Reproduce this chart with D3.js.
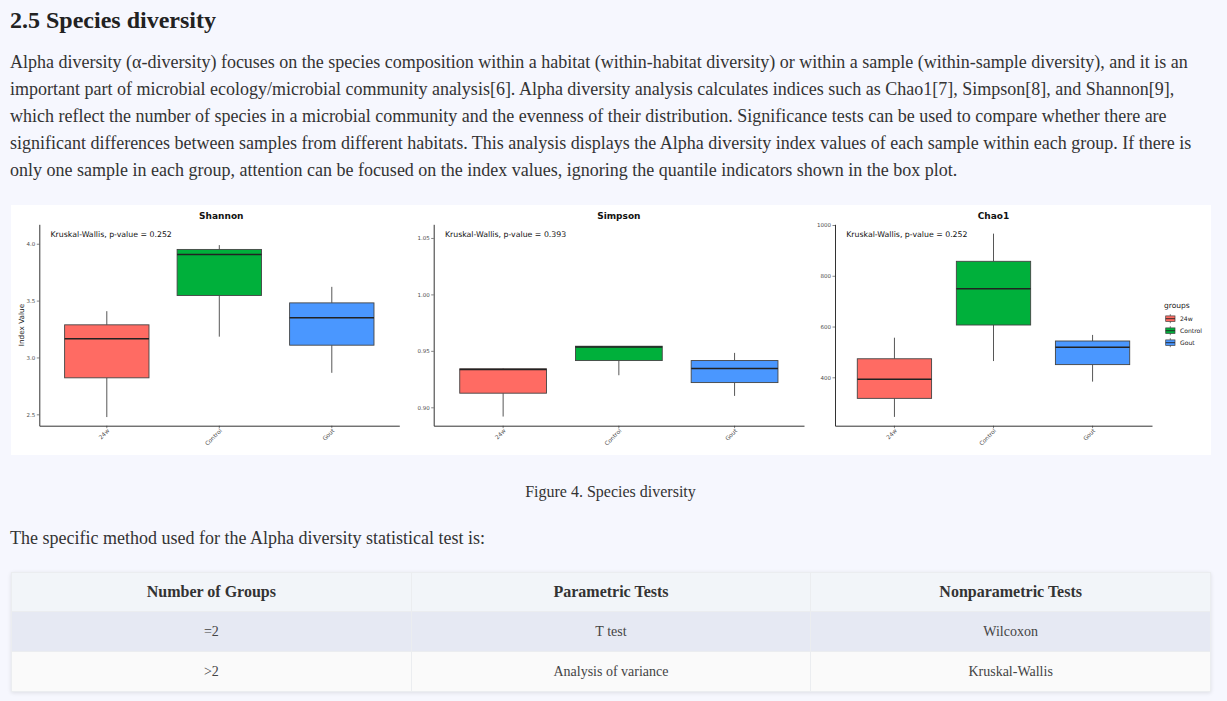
<!DOCTYPE html>
<html>
<head>
<meta charset="utf-8">
<script src="https://cdn.jsdelivr.net/npm/d3@7"></script>
<style>
  html, body { margin: 0; padding: 0; background: #f6f7fe; width: 1227px; height: 701px; overflow: hidden; }
  body { position: relative; font-family: "Liberation Serif", "Times New Roman", serif; color: #333; }
  .abs { position: absolute; white-space: nowrap; }
  h2 { position: absolute; left: 10px; top: 5px; margin: 0; font-size: 24px; line-height: 30px; font-weight: bold; color: #222; }
  .para { left: 10px; top: 48.5px; font-size: 18px; line-height: 27px; color: #333; }
  .caption { left: 0; width: 1221px; text-align: center; top: 478px; font-size: 16px; line-height: 27px; color: #333; }
  .method { left: 10px; top: 524.5px; font-size: 18px; line-height: 27px; color: #333; }
  #fig { position: absolute; left: 11px; top: 205px; width: 1200px; height: 250px; background: #fff; }
  table { position: absolute; left: 11px; top: 572px; width: 1200px; border-collapse: collapse; box-shadow: 0 1px 4px rgba(0,0,0,0.10); table-layout: fixed; }
  th, td { text-align: center; border: 1px solid #ebedf0; padding: 0; }
  th { height: 38px; font-size: 16px; font-weight: bold; color: #333; background: #f2f5f9; }
  td { height: 39px; font-size: 14px; color: #444; }
  tr.r1 td { background: #e6e9f3; }
  tr.r2 td { background: #fafafa; }
</style>
</head>
<body>
<h2>2.5 Species diversity</h2>
<div class="abs para">Alpha diversity (α-diversity) focuses on the species composition within a habitat (within-habitat diversity) or within a sample (within-sample diversity), and it is an<br>important part of microbial ecology/microbial community analysis[6]. Alpha diversity analysis calculates indices such as Chao1[7], Simpson[8], and Shannon[9],<br>which reflect the number of species in a microbial community and the evenness of their distribution. Significance tests can be used to compare whether there are<br>significant differences between samples from different habitats. This analysis displays the Alpha diversity index values of each sample within each group. If there is<br>only one sample in each group, attention can be focused on the index values, ignoring the quantile indicators shown in the box plot.</div>
<svg id="fig" width="1200" height="250"></svg>
<div class="abs caption">Figure 4. Species diversity</div>
<div class="abs method">The specific method used for the Alpha diversity statistical test is:</div>
<table id="tbl"></table>
<script>
// ---------------- DATA ----------------
const groups = ["24w", "Control", "Gout"];
const groupColors = ["#FF6B63", "#00B03B", "#4A97FF"];
const titles = ["Shannon", "Simpson", "Chao1"];
const pValues = ["0.252", "0.393", "0.252"];
// five-number summaries per group: [min, q1, median, q3, max]
const shannonStats = [
  [2.476, 2.821, 3.164, 3.287, 3.407],
  [3.183, 3.545, 3.906, 3.950, 3.988],
  [2.865, 3.108, 3.349, 3.480, 3.621]
];
const simpsonStats = [
  [0.8918, 0.9125, 0.9335, 0.9341, 0.9346],
  [0.9284, 0.9414, 0.9535, 0.9541, 0.9541],
  [0.9101, 0.9219, 0.9343, 0.9414, 0.9482]
];
const chao1Stats = [
  [244, 317, 392, 473, 556],
  [464, 606, 749, 857, 966],
  [383, 450, 518, 543, 567]
];
const shannonTicks = [2.5, 3.0, 3.5, 4.0];
const simpsonTicks = [0.90, 0.95, 1.00, 1.05];
const chao1Ticks = [400, 600, 800, 1000];
const tableHeader = ["Number of Groups", "Parametric Tests", "Nonparametric Tests"];
const tableRows = [["=2", "T test", "Wilcoxon"], [">2", "Analysis of variance", "Kruskal-Wallis"]];

// ---------------- LAYOUT ----------------
const panels = [
  { stats: shannonStats, ticks: shannonTicks, fmt: d3.format(".1f"), domain: [2.40, 4.171], x0: 28.3, x1: 388.3, ylab: "Index Value" },
  { stats: simpsonStats, ticks: simpsonTicks, fmt: d3.format(".2f"), domain: [0.8837, 1.0621], x0: 422.7, x1: 793, ylab: null },
  { stats: chao1Stats, ticks: chao1Ticks, fmt: d3.format("d"), domain: [209.3, 1002.8], x0: 824, x1: 1141, ylab: null }
];
const yTop = 19.3, yBot = 220.7;
const sans = "DejaVu Sans, Verdana, sans-serif";

const svg = d3.select("#fig");

panels.forEach((p, pi) => {
  const x = d3.scaleBand().domain(groups).range([p.x0, p.x1]).paddingInner(0.25).paddingOuter(0.225);
  const y = d3.scaleLinear().domain(p.domain).range([yBot, yTop]);
  const g = svg.append("g");

  // boxes
  const box = g.selectAll("g.box").data(p.stats).join("g").attr("class", "box");
  const cx = (d, i) => x(groups[i]) + x.bandwidth() / 2;
  box.append("line")
    .attr("x1", cx).attr("x2", cx)
    .attr("y1", d => y(d[4])).attr("y2", d => y(d[3]))
    .attr("stroke", "#444").attr("stroke-width", 0.9);
  box.append("line")
    .attr("x1", cx).attr("x2", cx)
    .attr("y1", d => y(d[1])).attr("y2", d => y(d[0]))
    .attr("stroke", "#444").attr("stroke-width", 0.9);
  box.append("rect")
    .attr("x", (d, i) => x(groups[i]))
    .attr("width", x.bandwidth())
    .attr("y", d => y(d[3]))
    .attr("height", d => y(d[1]) - y(d[3]))
    .attr("fill", (d, i) => groupColors[i])
    .attr("stroke", "#444").attr("stroke-width", 0.9);
  box.append("line")
    .attr("x1", (d, i) => x(groups[i])).attr("x2", (d, i) => x(groups[i]) + x.bandwidth())
    .attr("y1", d => y(d[2])).attr("y2", d => y(d[2]))
    .attr("stroke", "#222").attr("stroke-width", 1.5);

  // y axis
  const ya = g.append("g").attr("transform", `translate(${p.x0},0)`)
    .call(d3.axisLeft(y).tickValues(p.ticks).tickFormat(p.fmt).tickSize(2.5).tickPadding(1.5).tickSizeOuter(0));
  ya.select(".domain").attr("stroke", "#333").attr("stroke-width", 1);
  ya.selectAll(".tick line").attr("stroke", "#333").attr("stroke-width", 0.6);
  ya.selectAll(".tick text").attr("fill", "#4d4d4d").style("font-family", sans).style("font-size", "5.5px");

  // x axis
  const xa = g.append("g").attr("transform", `translate(0,${yBot})`)
    .call(d3.axisBottom(x).tickSize(2.5).tickSizeOuter(0));
  xa.select(".domain").attr("stroke", "#333").attr("stroke-width", 1);
  xa.selectAll(".tick line").attr("stroke", "#333").attr("stroke-width", 0.6);
  xa.selectAll(".tick text")
    .attr("fill", "#4d4d4d").style("font-family", sans).style("font-size", "5.8px")
    .attr("text-anchor", "end").attr("dy", null).attr("y", null)
    .attr("transform", "translate(3,5.5) rotate(-45)");

  // title
  g.append("text").attr("x", (p.x0 + p.x1) / 2 + (pi === 0 ? 2 : 0)).attr("y", 14)
    .attr("text-anchor", "middle").style("font-family", sans).style("font-size", "9px")
    .style("font-weight", "bold").attr("fill", "#111").text(titles[pi]);

  // annotation
  g.append("text").attr("x", p.x0 + 11.2).attr("y", 31.5)
    .style("font-family", sans).style("font-size", "7.8px").attr("fill", "#111")
    .text(`Kruskal-Wallis, p-value = ${pValues[pi]}`);

  if (p.ylab) {
    g.append("text").attr("transform", `translate(13.3,${(yTop + yBot) / 2}) rotate(-90)`)
      .attr("text-anchor", "middle").style("font-family", sans).style("font-size", "7.3px")
      .attr("fill", "#222").text(p.ylab);
  }
});

// legend
const lg = svg.append("g").attr("transform", "translate(1153,0)");
lg.append("text").attr("x", 0).attr("y", 103).style("font-family", sans).style("font-size", "7.5px").attr("fill", "#222").text("groups");
const li = lg.selectAll("g.item").data(groups).join("g").attr("class", "item")
  .attr("transform", (d, i) => `translate(1.7,${113.7 + i * 12})`);
li.append("line").attr("x1", 4.6).attr("x2", 4.6).attr("y1", -4.5).attr("y2", 4.5).attr("stroke", "#444").attr("stroke-width", 0.7);
li.append("rect").attr("x", 0).attr("y", -2.8).attr("width", 9.3).attr("height", 5.6)
  .attr("fill", (d, i) => groupColors[i]).attr("stroke", "#444").attr("stroke-width", 0.7);
li.append("line").attr("x1", 0).attr("x2", 9.3).attr("y1", 0).attr("y2", 0).attr("stroke", "#222").attr("stroke-width", 0.9);
li.append("text").attr("x", 14.3).attr("y", 2.1).style("font-family", sans).style("font-size", "6.1px").attr("fill", "#222").text(d => d);

// table
const tbl = d3.select("#tbl");
tbl.append("tr").selectAll("th").data(tableHeader).join("th").text(d => d);
tbl.selectAll("tr.row").data(tableRows).join("tr").attr("class", (d, i) => "row r" + (i + 1))
  .selectAll("td").data(d => d).join("td").text(d => d);
</script>
</body>
</html>
